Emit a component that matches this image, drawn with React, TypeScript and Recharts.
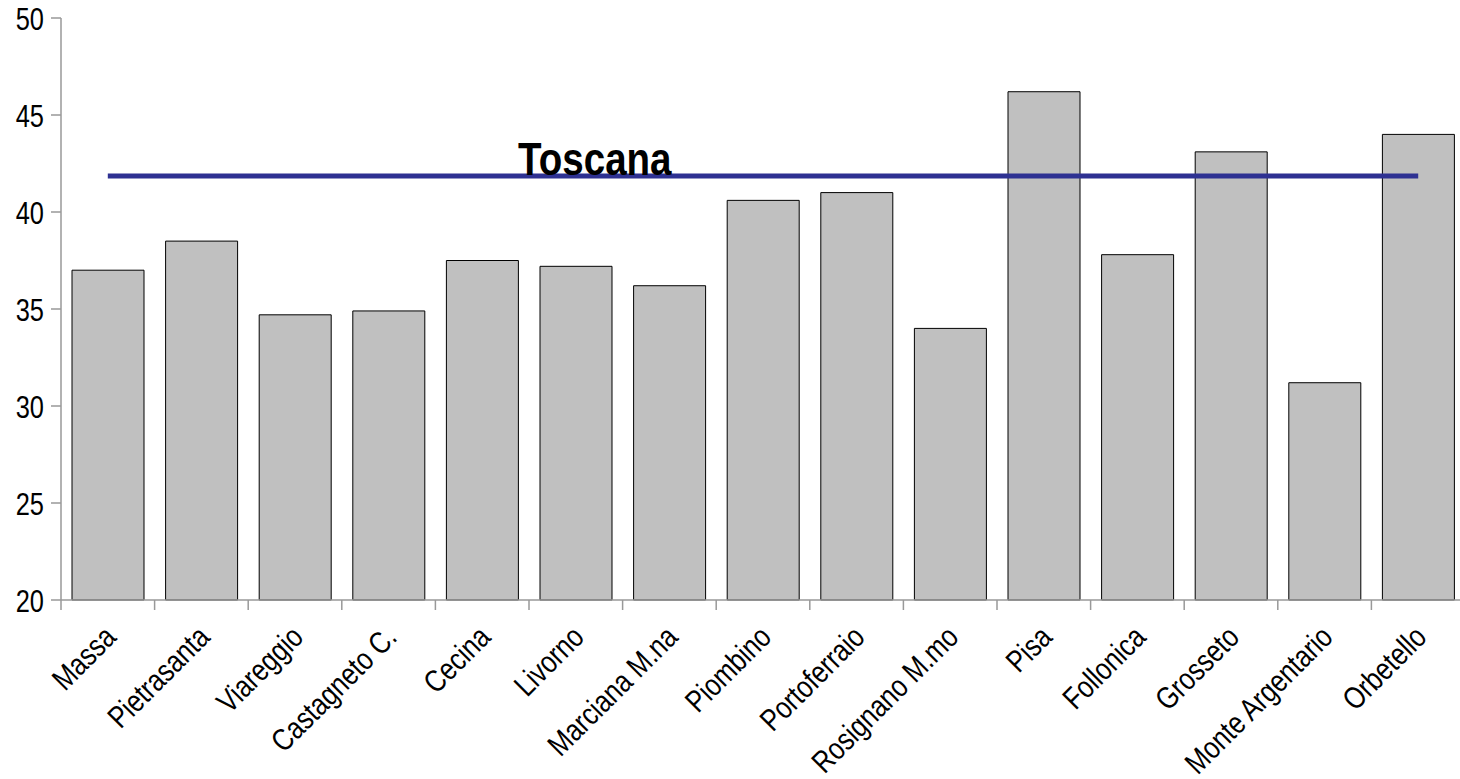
import React from 'react';
import { ComposedChart, Bar, Line, XAxis, YAxis } from 'recharts';

const places = [
  'Massa', 'Pietrasanta', 'Viareggio', 'Castagneto C.', 'Cecina', 'Livorno', 'Marciana M.na',
  'Piombino', 'Portoferraio', 'Rosignano M.mo', 'Pisa', 'Follonica', 'Grosseto',
  'Monte Argentario', 'Orbetello',
];
const values = [37.0, 38.5, 34.7, 34.9, 37.5, 37.2, 36.2, 40.6, 41.0, 34.0, 46.2, 37.8, 43.1, 31.2, 44.0];
const toscanaValue = 41.85;
const toscanaLabel = 'Toscana';
const yTicks = [20, 25, 30, 35, 40, 45, 50];

const data = places.map((name, i) => ({ name, value: values[i], toscana: toscanaValue }));

// no narrow font installed, so squeeze Liberation Sans horizontally
const FONT = '"Liberation Sans", Arial, sans-serif';
const NARROW = 0.82;
const CHART_W = 1468;
const CHART_H = 779;
const Y_W = 61;
const RIGHT = 3;
const HALF_BAND = (CHART_W - Y_W - RIGHT) / places.length / 2;

const XTick = (props: any) => {
  const { x, y, payload, index } = props;
  const lx = x + 10;
  const ly = y + 39;
  return (
    <g>
      <line x1={x - HALF_BAND} y1={y} x2={x - HALF_BAND} y2={y + 10} stroke="#999" strokeWidth={1.5} />
      {index === places.length - 1 && (
        <line x1={x + HALF_BAND} y1={y} x2={x + HALF_BAND} y2={y + 10} stroke="#999" strokeWidth={1.5} />
      )}
      <text
        x={0}
        y={0}
        textAnchor="end"
        fontSize={31}
        fontFamily={FONT}
        fill="#000"
        transform={`translate(${lx}, ${ly}) rotate(-45) scale(${NARROW}, 1)`}
      >
        {payload.value}
      </text>
    </g>
  );
};

const YTick = (props: any) => {
  const { x, y, payload } = props;
  return (
    <text
      x={0}
      y={0}
      dy="0.36em"
      textAnchor="end"
      fontSize={31}
      fontFamily={FONT}
      fill="#000"
      transform={`translate(${x}, ${y + 1}) scale(${NARROW}, 1)`}
    >
      {payload.value}
    </text>
  );
};

const ToscanaLabel = (props: any) => {
  const { x, y, index } = props;
  if (index !== 5) return null;
  return (
    <text
      x={0}
      y={0}
      textAnchor="middle"
      fontSize={47}
      fontWeight="bold"
      fontFamily={FONT}
      fill="#000"
      transform={`translate(${x + 19}, ${y - 1}) scale(${NARROW}, 1)`}
    >
      {toscanaLabel}
    </text>
  );
};

export default function App() {
  return (
    <div style={{ width: CHART_W, height: CHART_H }}>
      <style>{'body{margin:0;overflow:hidden;}'}</style>
      <ComposedChart
        width={CHART_W}
        height={CHART_H}
        data={data}
        margin={{ top: 18, right: RIGHT, bottom: 0, left: 0 }}
      >
        <XAxis
          dataKey="name"
          interval={0}
          height={CHART_H - 600}
          tickSize={0}
          tickMargin={0}
          tickLine={false}
          tick={<XTick />}
          axisLine={{ stroke: '#999', strokeWidth: 1.5 }}
        />
        <YAxis
          domain={[20, 50]}
          ticks={yTicks}
          width={Y_W}
          tickSize={10}
          tickMargin={7}
          tick={<YTick />}
          tickLine={{ stroke: '#999', strokeWidth: 1.5 }}
          axisLine={{ stroke: '#999', strokeWidth: 1.5 }}
        />
        <Bar dataKey="value" fill="#C0C0C0" stroke="#000" strokeWidth={1} barSize={72} isAnimationActive={false} />
        <Line
          dataKey="toscana"
          stroke="#2E3192"
          strokeWidth={5}
          dot={false}
          activeDot={false}
          isAnimationActive={false}
          label={<ToscanaLabel />}
        />
      </ComposedChart>
    </div>
  );
}
